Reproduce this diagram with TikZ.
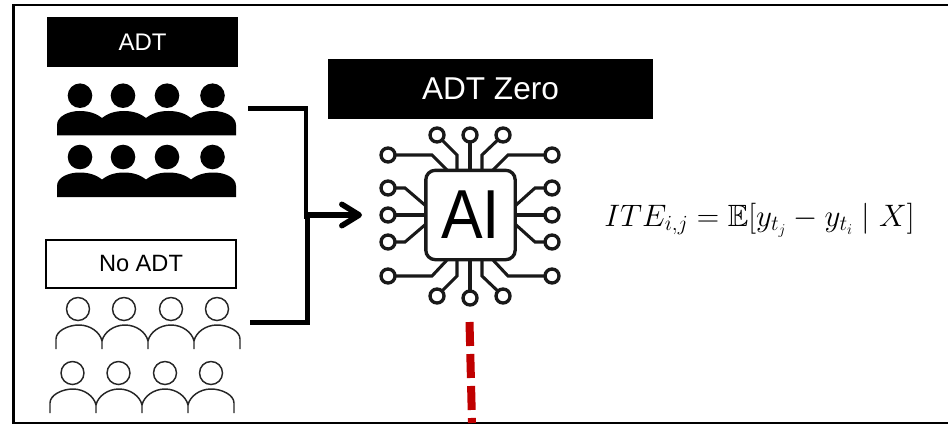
\documentclass[tikz,border=0pt]{standalone}
\usepackage{amssymb}
\usepackage{fontspec}
\setmainfont{Liberation Sans}
\usetikzlibrary{arrows.meta}

\tikzset{
    blackbox/.style={fill=black, text=white, inner sep=0pt},
    whitebox/.style={draw=black, line width=1.5pt, fill=white, inner sep=0pt},
    link/.style={line width=3.9pt, line join=miter},
    wire/.style={line width=2.3pt, draw=black!90},
    port/.style={line width=2.5pt, draw=black!90, fill=white},
    outline/.style={line width=1.1pt, draw=black!85}
}

\begin{document}
\begin{tikzpicture}[x=0.75pt, y=-0.75pt]

    \useasboundingbox (0,0) rectangle (948,424);

    % Outer frame, open at the right edge
    \draw[line width=1.7pt] (948,5) -- (13.5,5) -- (13.5,423) -- (948,423);

    % Group labels
    \node[blackbox, minimum width=143.25pt, minimum height=37.5pt, font=\fontsize{18}{20}\selectfont] (adt) at (142.5,42) {ADT};
    \node[whitebox, minimum width=142pt, minimum height=36pt, font=\fontsize{17.7}{20}\selectfont] (noadt) at (141,263.5) {No ADT};
    \node[blackbox, minimum width=243.75pt, minimum height=45pt, font=\fontsize{23.7}{26}\selectfont] (adtzero) at (490.5,89) {ADT Zero};

    % Treated group, heads
    \fill (80,95.7) circle[radius=12.3] (123,95.7) circle[radius=12.3] (167,95.7) circle[radius=12.3] (212.5,95.7) circle[radius=12.3];
    \fill (80,157) circle[radius=12.3] (123,157) circle[radius=12.3] (167,157) circle[radius=12.3] (212.5,157) circle[radius=12.3];

    % Treated group, bodies
    \fill (57,135.5) -- (57,125) .. controls (57,116) and (69,111) .. (79.5,111)
        .. controls (90,111) and (97,114) .. (102,118) .. controls (107,114) and (114,111) .. (124,111)
        .. controls (134,111) and (141,114) .. (146,118) .. controls (151,114) and (158,111) .. (168.5,111)
        .. controls (179,111) and (186,114) .. (191,118) .. controls (196,114) and (203,111) .. (213.5,111)
        .. controls (224,111) and (236,116) .. (236,125) -- (236,135.5) -- cycle;
    \fill (57,197) -- (57,186) .. controls (57,177) and (69,172.5) .. (79.5,172.5)
        .. controls (90,172.5) and (97,175.5) .. (102,179.5) .. controls (107,175.5) and (114,172.5) .. (124,172.5)
        .. controls (134,172.5) and (141,175.5) .. (146,179.5) .. controls (151,175.5) and (158,172.5) .. (168.5,172.5)
        .. controls (179,172.5) and (186,175.5) .. (191,179.5) .. controls (196,175.5) and (203,172.5) .. (213.5,172.5)
        .. controls (224,172.5) and (236,177) .. (236,186) -- (236,197) -- cycle;

    % Untreated group, heads
    \draw[outline] (78,309) circle[radius=11.5] (124,309) circle[radius=11.5] (171,309) circle[radius=11.5] (217,309) circle[radius=11.5];
    \draw[outline] (72.5,373) circle[radius=11.5] (118.5,373) circle[radius=11.5] (165,373) circle[radius=11.5] (211,373) circle[radius=11.5];

    % Untreated group, bodies
    \draw[outline] (56,349) -- (56,339) .. controls (56,331) and (68,325) .. (79,325) .. controls (90,325) and (100,332) .. (102,341) -- (102,349)
        (102,341) .. controls (104,332) and (114,325) .. (125,325) .. controls (136,325) and (146,332) .. (148,341) -- (148,349)
        (148,341) .. controls (150,332) and (160,325) .. (171,325) .. controls (182,325) and (192,332) .. (194,341) -- (194,349)
        (194,341) .. controls (196,332) and (206,325) .. (217,325) .. controls (228,325) and (240,331) .. (240,339) -- (240,349);
    \draw[outline] (50,413) -- (50,403) .. controls (50,395) and (62,389) .. (73,389) .. controls (84,389) and (94,396) .. (96,405) -- (96,413)
        (96,405) .. controls (98,396) and (108,389) .. (119,389) .. controls (130,389) and (140,396) .. (142,405) -- (142,413)
        (142,405) .. controls (144,396) and (154,389) .. (165,389) .. controls (176,389) and (186,396) .. (188,405) -- (188,413)
        (188,405) .. controls (190,396) and (200,389) .. (211,389) .. controls (222,389) and (234,395) .. (234,403) -- (234,413);

    % Circuit wires
    \draw[wire] (388,155) -- (432,155) -- (447,170);
    \draw[wire] (388,188) -- (405,188) -- (426,206);
    \draw[wire] (388,215) -- (426,215);
    \draw[wire] (388,242) -- (405,242) -- (426,224);
    \draw[wire] (388,276) -- (432,276) -- (447,260);
    \draw[wire] (552,155) -- (508,155) -- (493,170);
    \draw[wire] (552,188) -- (535,188) -- (515,206);
    \draw[wire] (552,215) -- (515,215);
    \draw[wire] (552,242) -- (535,242) -- (515,224);
    \draw[wire] (552,276) -- (508,276) -- (493,260);
    \draw[wire] (437,135) -- (457,155) -- (457,170);
    \draw[wire] (470,135) -- (470,170);
    \draw[wire] (503,135) -- (482,155) -- (482,170);
    \draw[wire] (437,296) -- (457,276) -- (457,260);
    \draw[wire] (470,298) -- (470,260);
    \draw[wire] (503,296) -- (482,276) -- (482,260);

    % Circuit ports
    \path[port] (388,155) circle[radius=7] (388,188) circle[radius=7] (388,215) circle[radius=7] (388,242) circle[radius=7] (388,276) circle[radius=7];
    \path[port] (552,155) circle[radius=7] (552,188) circle[radius=7] (552,215) circle[radius=7] (552,242) circle[radius=7] (552,276) circle[radius=7];
    \path[port] (437,135) circle[radius=7] (470,135) circle[radius=7] (503,135) circle[radius=7];
    \path[port] (437,296) circle[radius=7] (470,298) circle[radius=7] (503,296) circle[radius=7];

    % Chip
    \node[draw=black!90, line width=2.5pt, fill=white, rounded corners=7pt, minimum width=67pt, minimum height=67pt, inner sep=0pt, font=\fontsize{52}{56}\selectfont] (chip) at (470.5,215) {\scalebox{0.9}[1]{AI}};

    % Connectors into the chip
    \coordinate (adtout) at (248,108.5);
    \coordinate (adtbend) at (306,108.5);
    \coordinate (adtjoin) at (306,219);
    \coordinate (noadtout) at (250,322.5);
    \coordinate (noadtbend) at (307.5,322.5);
    \coordinate (noadtjoin) at (307.5,212);
    \coordinate (arrowstart) at (304,215);
    \coordinate (arrowend) at (362,215);
    \draw[line width=3.4pt] (adtout) -- (adtbend) -- (adtjoin);
    \draw[link] (noadtout) -- (noadtbend) -- (noadtjoin);
    \draw[link, line width=4.2pt, -{Straight Barb[round, length=13pt, width=16pt]}] (arrowstart) -- (arrowend);

    % Effect formula
    \node[inner sep=0pt, font=\fontsize{24.7}{28}\selectfont] (ite) at (759.5,220) {\scalebox{0.935}{$ITE_{i,j} = \mathbb{E}[y_{t_j} - y_{t_i} \mid X]$}};

    % Dashed line leaving the chip
    \coordinate (dashstart) at (469.5,322);
    \coordinate (dashend) at (472,423);
    \draw[line width=6pt, draw={rgb,255:red,192;green,0;blue,0}, dash pattern=on 18pt off 6pt] (dashstart) -- (dashend);

\end{tikzpicture}
\end{document}
